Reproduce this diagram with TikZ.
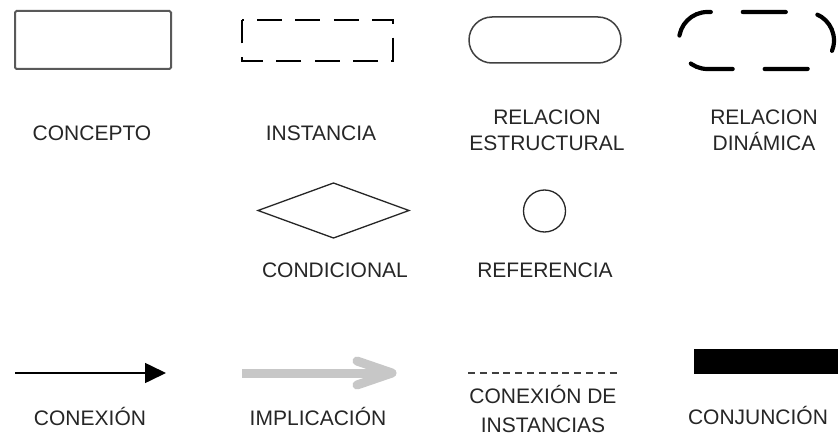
\documentclass[tikz,border=0pt]{standalone}
\usepackage{fontspec}
\setmainfont{Liberation Sans}
\usetikzlibrary{arrows.meta}
\begin{document}
\begin{tikzpicture}[x=1pt,y=-1pt,
  lbl/.style={font=\fontsize{21}{25}\selectfont, text=black!85, inner sep=0pt, anchor=base},
  ghost/.style={inner sep=0pt, outer sep=0pt},
  inst/.style={line width=2.8pt, dash pattern=on 25pt off 13.4pt, dash phase=23.4pt},
  dyn/.style={line width=4.2pt, line cap=round, dash pattern=on 43pt off 32pt, dash phase=70pt},
  impl/.style={line width=9pt, black!22, line join=round}]
\useasboundingbox (0,0) rectangle (838,436);
\fill[white] (0,0) rectangle (838,436);

% --- row 1 ---
\node[ghost, draw=black!65, line width=2pt, rounded corners=1.5pt,
      minimum width=156pt, minimum height=58pt] (concepto) at (93,40) {};
\node[lbl] (lconcepto) at (92,140) {CONCEPTO};

\node[ghost, minimum width=151pt, minimum height=41pt] (instancia) at (317.5,40.5) {};
\draw[inst] (instancia.north west) -- (instancia.north east) -- (instancia.south east)
  -- (instancia.south west) -- cycle;
\node[lbl] (linstancia) at (321,140) {INSTANCIA};

\node[ghost, draw=black!75, line width=1.5pt, rounded corners=23pt,
      minimum width=152pt, minimum height=46pt] (estructural) at (545,40) {};
\node[lbl] (lest1) at (547,124) {RELACION};
\node[lbl] (lest2) at (547,150) {ESTRUCTURAL};

\node[ghost, minimum width=155pt, minimum height=57pt] (dinamica) at (756.5,40.5) {};
\draw[dyn] (dinamica.west) arc[start angle=180,end angle=270,radius=28.5]
  -- (805.5,12) arc[start angle=270,end angle=450,radius=28.5]
  -- (707.5,69) arc[start angle=90,end angle=180,radius=28.5];
\node[lbl] (ldin1) at (764,124) {RELACION};
\node[lbl] (ldin2) at (764,150) {DINÁMICA};

% --- row 2 ---
\node[ghost, minimum width=151pt, minimum height=55pt] (condicional) at (333.5,210.5) {};
\draw[black!85, line width=1.3pt] (condicional.west) -- (condicional.north)
  -- (condicional.east) -- (condicional.south) -- cycle;
\node[lbl] (lcond) at (335,277) {CONDICIONAL};

\node[ghost, circle, draw=black!85, line width=1.3pt, minimum size=42pt] (referencia) at (544.5,211) {};
\node[lbl] (lref) at (545,277) {REFERENCIA};

% --- row 3 ---
\coordinate (c1) at (15,373);
\coordinate (c2) at (166,373);
\draw[line width=1.6pt, -{Triangle[length=21pt,width=20pt]}] (c1) -- (c2);
\node[lbl] (lcon) at (90,425) {CONEXIÓN};

\coordinate (i1) at (242,373);
\coordinate (i2) at (392,373);
\draw[impl] (i1) -- (i2);
\draw[impl, line cap=round] ([shift={(-35,-12)}]i2) -- (i2) -- ([shift={(-35,12)}]i2);
\node[lbl] (limp) at (318,425) {IMPLICACIÓN};

\coordinate (d1) at (468,373);
\coordinate (d2) at (621,373);
\draw[black!75, line width=1.3pt, dash pattern=on 7pt off 4.8pt] (d1) -- (d2);
\node[lbl] (lci1) at (543,403) {CONEXIÓN DE};
\node[lbl] (lci2) at (543,432) {INSTANCIAS};

\node[ghost, fill=black, minimum width=144pt, minimum height=25pt] (conjuncion) at (766,361.5) {};
\node[lbl] (lconj) at (758,424) {CONJUNCIÓN};
\end{tikzpicture}
\end{document}
